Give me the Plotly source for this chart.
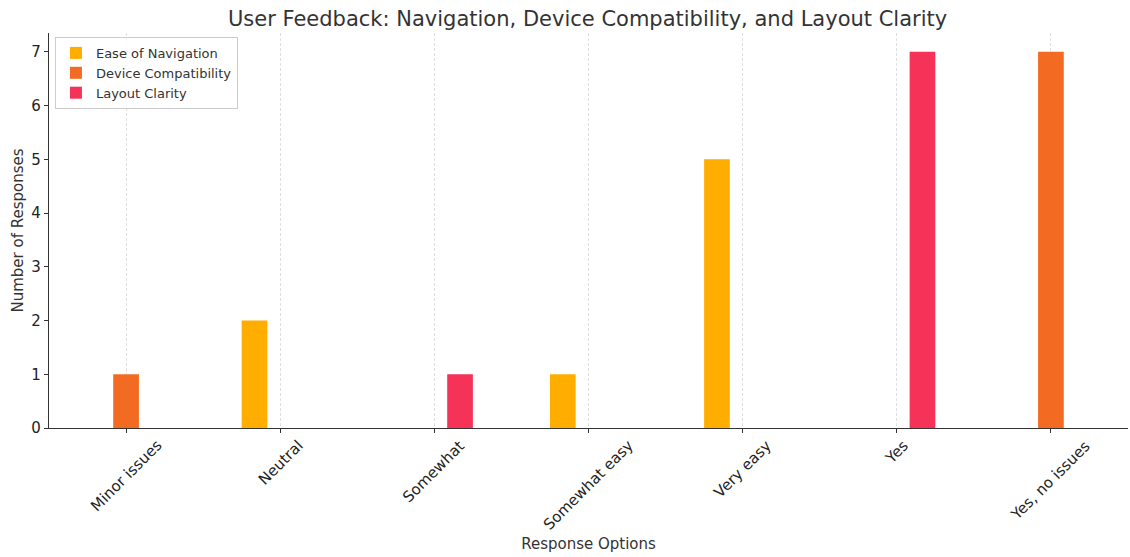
import plotly.graph_objects as go

categories = ["Minor issues", "Neutral", "Somewhat", "Somewhat easy", "Very easy", "Yes", "Yes, no issues"]
ease_of_navigation = [0, 2, 0, 1, 5, 0, 0]
device_compatibility = [1, 0, 0, 0, 0, 0, 7]
layout_clarity = [0, 0, 1, 0, 0, 7, 0]
series_names = ["Ease of Navigation", "Device Compatibility", "Layout Clarity"]
y_ticks = [0, 1, 2, 3, 4, 5, 6, 7]

colors = ["#FFAE00", "#F36B22", "#F53258"]
FONT = "DejaVu Sans"
TXT = "#333333"

fig = go.Figure()
for name, vals, col in zip(series_names, [ease_of_navigation, device_compatibility, layout_clarity], colors):
    fig.add_trace(go.Bar(x=categories, y=vals, name=name, marker=dict(color=col, line=dict(width=0))))

annotations = []
for c in categories:
    annotations.append(dict(x=c, y=0, xref="x", yref="y", text=c, showarrow=False,
                            textangle=-45, xanchor="center", yanchor="top", yshift=-6,
                            font=dict(family=FONT, size=15, color="#222222")))

fig.update_layout(
    width=1130, height=557,
    margin=dict(l=49, r=2, t=33, b=129),
    paper_bgcolor="white", plot_bgcolor="white",
    barmode="group", bargap=0.5, bargroupgap=0,
    font=dict(family=FONT, size=14, color=TXT),
    title=dict(text="User Feedback: Navigation, Device Compatibility, and Layout Clarity",
               x=0.52, xanchor="center", y=0.967, yanchor="middle",
               font=dict(family=FONT, size=21, color=TXT)),
    legend=dict(x=0.0055, y=0.99, xanchor="left", yanchor="top",
                bgcolor="rgba(255,255,255,0.8)", bordercolor="#CCCCCC", borderwidth=1,
                font=dict(family=FONT, size=13, color=TXT), tracegroupgap=0, itemwidth=30),
    annotations=annotations,
    showlegend=True,
)
fig.update_xaxes(
    range=[-0.5, 6.5], showticklabels=False, automargin=False,
    showgrid=True, gridcolor="#DEDEDE", griddash="3px,2px", gridwidth=1,
    showline=True, linecolor="#333333", linewidth=1.2,
    ticks="outside", ticklen=4, tickcolor="#333333",
    title=dict(text="Response Options", standoff=106, font=dict(family=FONT, size=15, color=TXT)),
    zeroline=False,
)
fig.update_yaxes(
    range=[0, 7.35], tickvals=y_ticks, showgrid=False, automargin=False,
    showline=True, linecolor="#333333", linewidth=1.2,
    ticks="outside", ticklen=4, tickcolor="#333333",
    tickfont=dict(family=FONT, size=15, color="#222222"),
    title=dict(text="Number of Responses", standoff=4, font=dict(family=FONT, size=15, color=TXT)),
    zeroline=False,
)

fig.write_html("out.html", config={"displayModeBar": False},
               post_script="document.body.style.margin='0';document.body.style.overflow='hidden';")
